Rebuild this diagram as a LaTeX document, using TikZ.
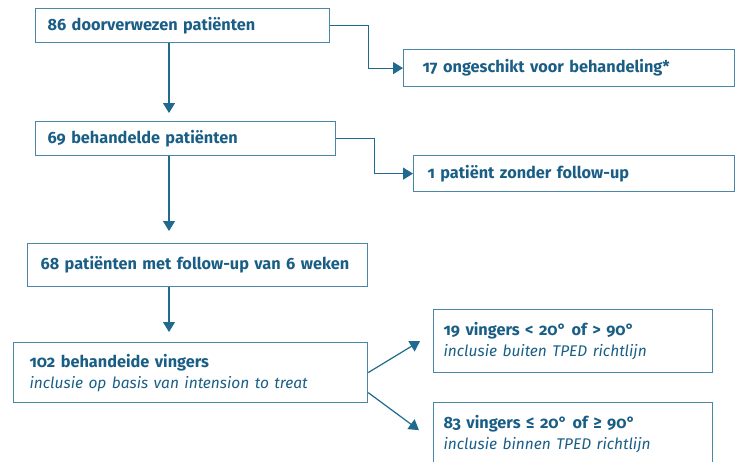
\documentclass[tikz,border=0pt]{standalone}
\usepackage{fontspec}
\setmainfont{Fira Sans}[Numbers=OldStyle, RawFeature=+onum]
\usepackage{tikz}
\usepackage{xcolor}
\usetikzlibrary{arrows.meta, positioning, calc}
\definecolor{FlowLine}{HTML}{4A86A8}
\definecolor{FlowText}{HTML}{1A5E86}
\definecolor{FlowArrow}{HTML}{1F6A8E}
\newcommand{\subtext}[1]{{\fontsize{15.5}{21}\selectfont\mdseries\itshape #1}}
\tikzset{
    % Boxes with sharp corners, text left aligned
    flowbox/.style={
        rectangle,
        draw=FlowLine,
        line width=1.2pt,
        text=FlowText,
        anchor=north west,
        align=left,
        inner ysep=0pt,
        font=\fontsize{16.3}{21}\selectfont\bfseries
    },
    arrow style/.style={
        -{Triangle[length=10pt, width=12pt]},
        line width=1.2pt,
        FlowArrow
    }
}

\begin{document}
\begin{tikzpicture}[x=1pt, y=-1pt]
        \clip (0,0) rectangle (739,461);

        % Patients
        \node[flowbox, inner xsep=12pt, text width=270pt, minimum height=34pt] (n86) at (35,8) {86 doorverwezen patiënten};
        \node[flowbox, inner xsep=19pt, text width=293pt, minimum height=37pt] (n17) at (403,49) {17 ongeschikt voor behandeling*};
        \node[flowbox, inner xsep=12pt, text width=276pt, minimum height=34pt] (n69) at (35,121) {69 behandelde patiënten};
        \node[flowbox, inner xsep=14pt, text width=293pt, minimum height=36pt] (n1) at (413,155) {1 patiënt zonder follow-up};
        \node[flowbox, inner xsep=13pt, text width=314pt, minimum height=43pt] (n68) at (27,243) {68 patiënten met follow-up van 6 weken};

        % Fingers
        \node[flowbox, inner xsep=16pt, text width=322pt, minimum height=60pt] (n102) at (13,342) {102 behandeide vingers\\\subtext{inclusie op basis van intension to treat}};
        \node[flowbox, inner xsep=10pt, text width=259pt, minimum height=63pt] (n19) at (433,309) {19 vingers < 20° of > 90°\\\subtext{inclusie buiten TPED richtlijn}};
        \node[flowbox, inner xsep=10pt, text width=259pt, minimum height=63pt] (n83) at (433,402) {83 vingers ≤ 20° of ≥ 90°\\\subtext{inclusie binnen TPED richtlijn}};

        % Arrows
        \coordinate (ax) at (169,0);
        \draw[arrow style] (ax |- n86.south) -- ([yshift=8pt]ax |- n69.north);
        \draw[arrow style] (ax |- n69.south) -- ([yshift=12pt]ax |- n68.north);
        \draw[arrow style] (ax |- n68.south) -- ([yshift=10pt]ax |- n102.north);
        \draw[arrow style] (n86.east) -- ++(38,0) |- (n17.west);
        \draw[arrow style] (n69.east) -- ++(38,0) |- (n1.west);
        \draw[arrow style] (n102.east) -- ([xshift=-13pt]n19.west);
        \draw[arrow style] ([yshift=-20pt]n102.east) -- ([xshift=-14pt,yshift=4pt]n83.west);
    \end{tikzpicture}
\end{document}
